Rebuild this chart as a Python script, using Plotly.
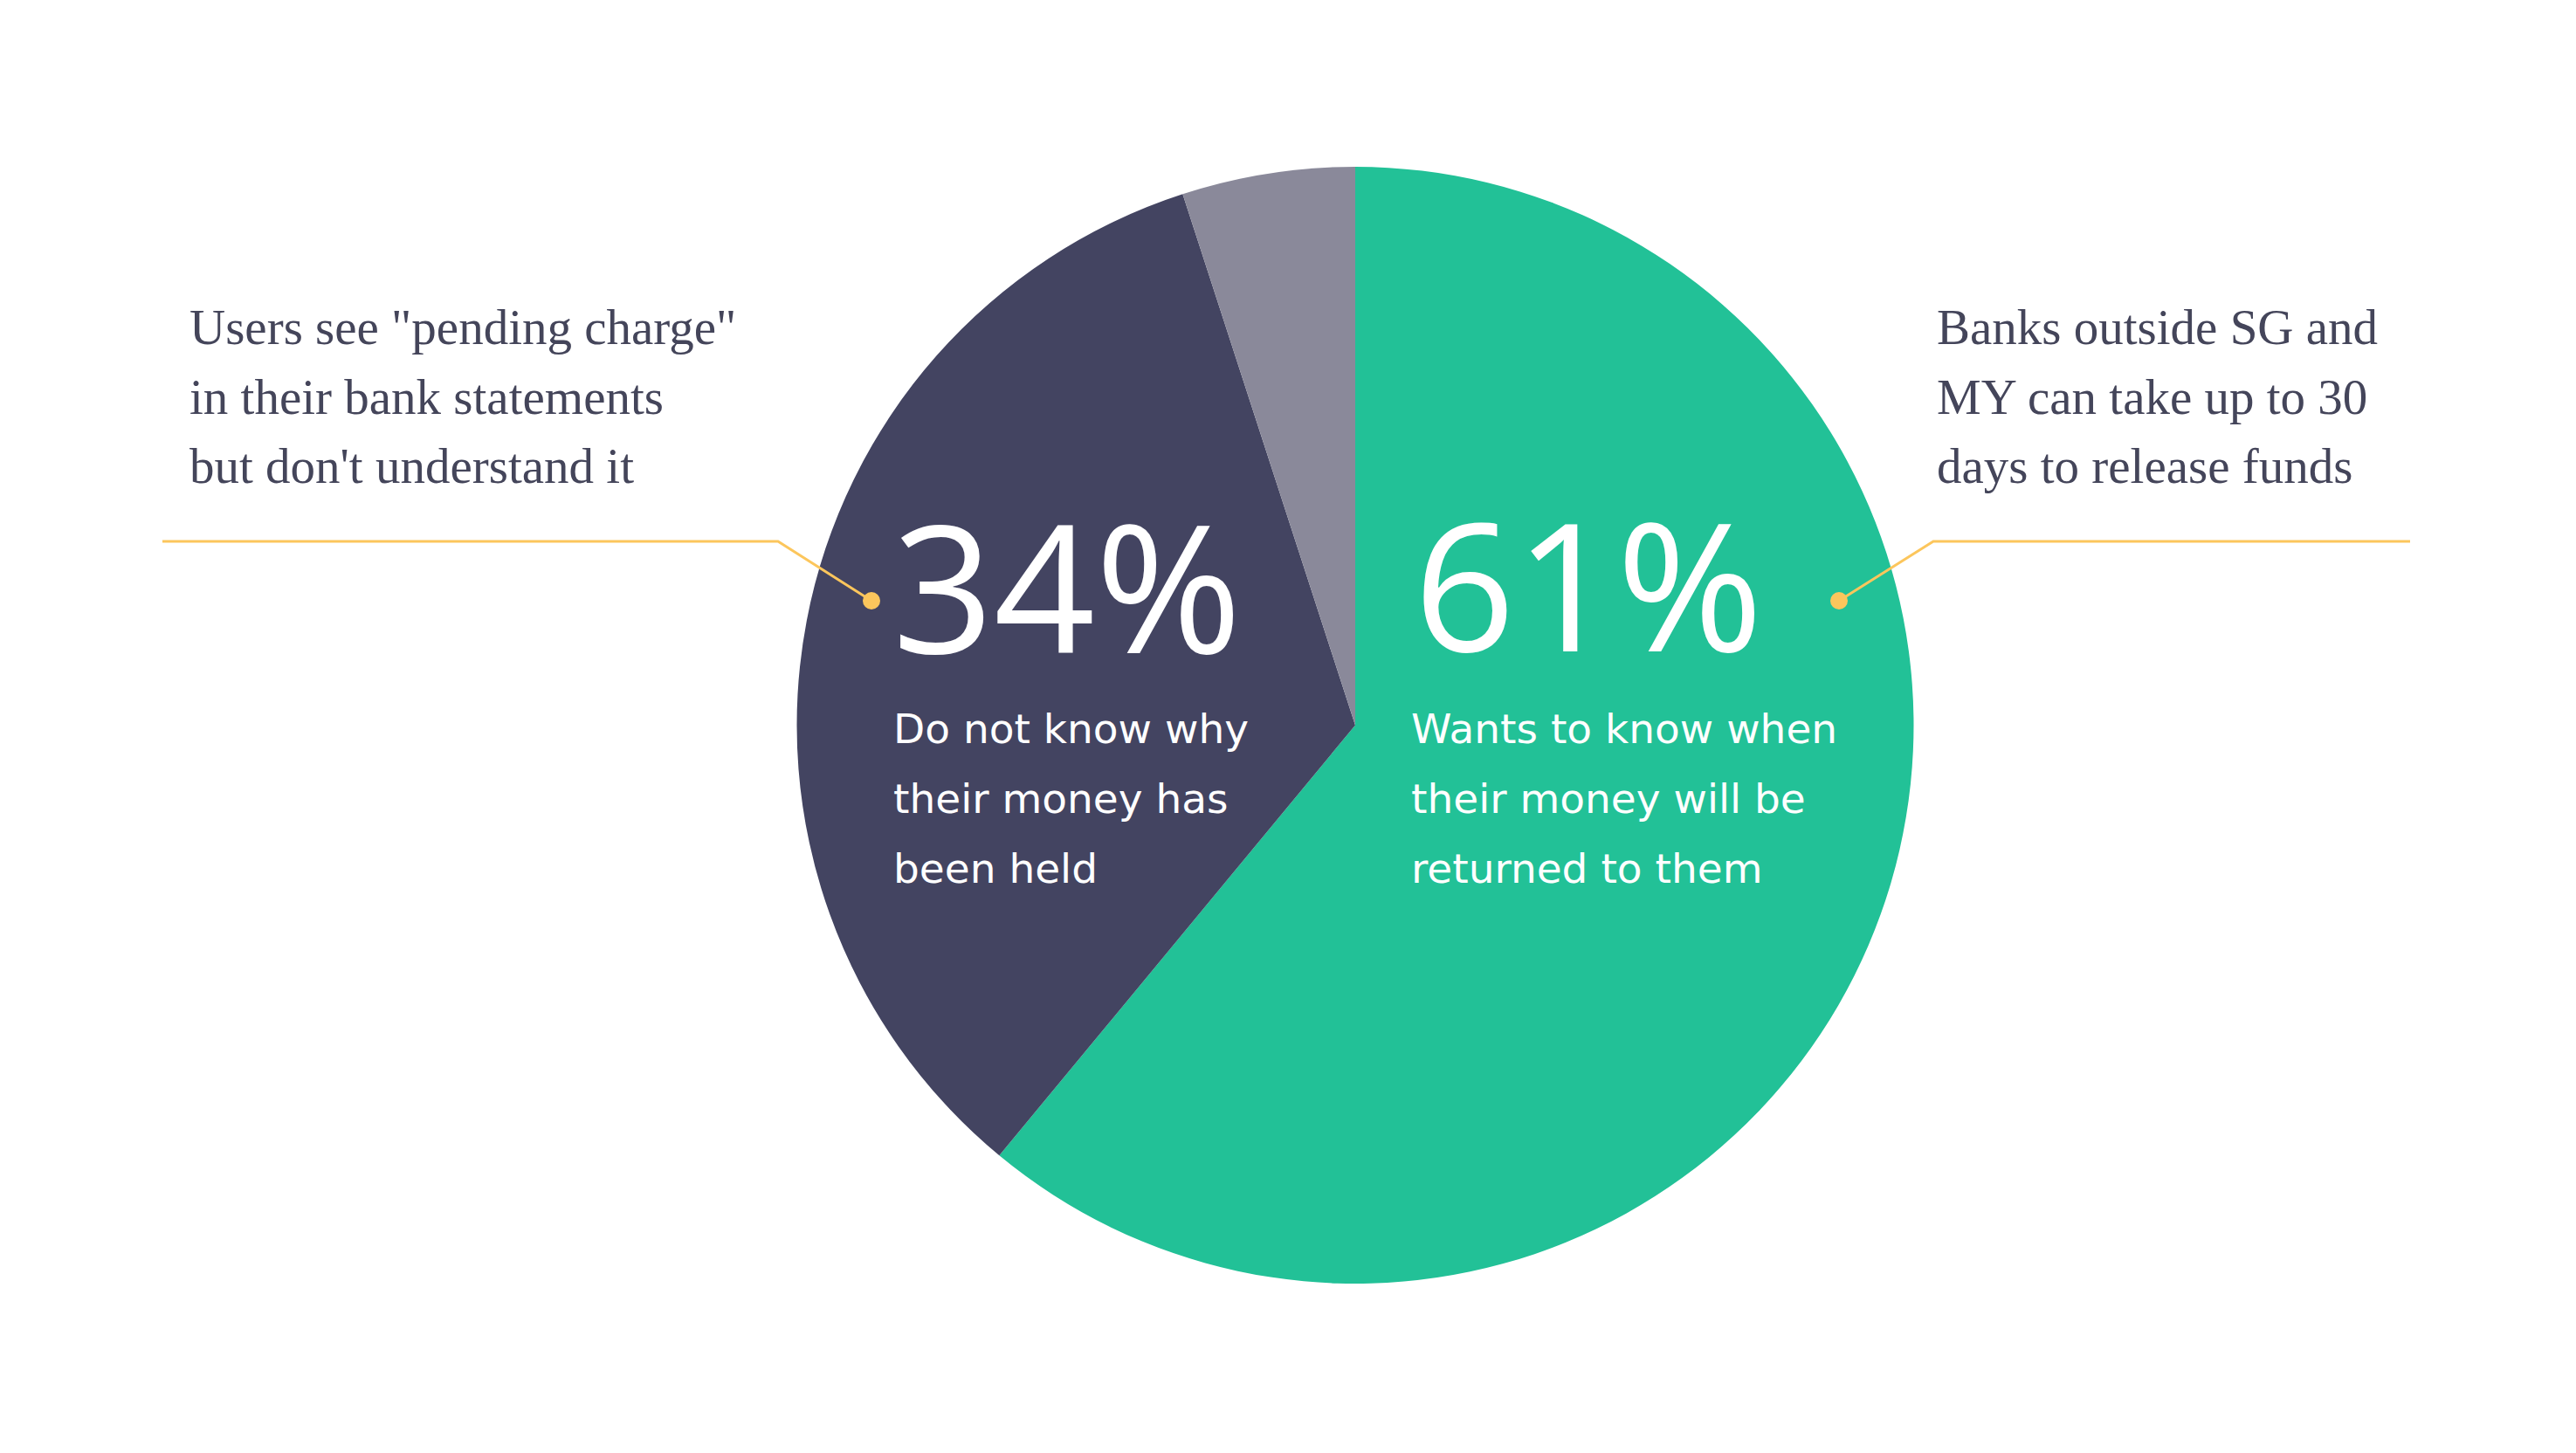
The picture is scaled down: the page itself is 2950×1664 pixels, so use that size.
import plotly.graph_objects as go

W, H = 2950, 1664

# ---- data ----
labels = ["Wants to know when their money will be returned to them",
          "Do not know why their money has been held",
          "Other"]
values = [61, 34, 5]
big_labels = ["61%", "34%"]
sub_lines_green = ["Wants to know when", "their money will be", "returned to them"]
sub_lines_dark = ["Do not know why", "their money has", "been held"]
note_left = ['Users see "pending charge"', "in their bank statements", "but don't understand it"]
note_right = ["Banks outside SG and", "MY can take up to 30", "days to release funds"]

# ---- style / layout constants ----
colors = ["#22C197", "#434461", "#8A899A"]
YELLOW = "#FCC65C"
TEXT_DARK = "#44455A"
SANS = "Open Sans"
SUB = "DejaVu Sans"
SERIF = "Liberation Serif"

CX, CY, R = 1552, 830.5, 639.5


def px(x):
    return x / W


def py(y):
    return 1 - y / H


fig = go.Figure()
fig.add_trace(go.Pie(
    labels=labels, values=values, sort=False, direction="clockwise", rotation=0,
    marker=dict(colors=colors, line=dict(width=0)),
    textinfo="none", hoverinfo="label+percent", showlegend=False,
    domain=dict(x=[px(CX - R), px(CX + R)], y=[py(CY + R), py(CY - R)]),
))

ann = []


def add_text(text, x, baseline, size, color, family, ratio):
    ann.append(dict(text=text, x=px(x), y=py(baseline - ratio * size),
                    xref="paper", yref="paper", xanchor="left", yanchor="middle",
                    showarrow=False, font=dict(size=size, color=color, family=family)))


# big numbers
add_text(big_labels[1], 1020, 748, 203, "white", SANS, 0.388)
add_text(big_labels[0], 1617, 746, 203, "white", SANS, 0.388)

# subtitles
for i, t in enumerate(sub_lines_dark):
    add_text(t, 1021, 852 + 80 * i, 47, "white", SUB, 0.38)
for i, t in enumerate(sub_lines_green):
    add_text(t, 1614, 852 + 80 * i, 47, "white", SUB, 0.38)

# side notes
for i, t in enumerate(note_left):
    add_text(t, 215, 394 + 79.5 * i, 57, TEXT_DARK, SERIF, 0.3375)
for i, t in enumerate(note_right):
    add_text(t, 2216, 394 + 79.5 * i, 57, TEXT_DARK, SERIF, 0.3375)

shapes = []
# leader lines
left_path = f"M {px(186)},{py(620)} L {px(891)},{py(620)} L {px(998)},{py(688)}"
right_path = f"M {px(2760)},{py(620)} L {px(2214)},{py(620)} L {px(2106)},{py(688)}"
for p in (left_path, right_path):
    shapes.append(dict(type="path", path=p, xref="paper", yref="paper",
                       line=dict(color=YELLOW, width=3)))
for dx in (998, 2106):
    r = 10
    shapes.append(dict(type="circle", xref="paper", yref="paper",
                       x0=px(dx - r), x1=px(dx + r), y0=py(688 + r), y1=py(688 - r),
                       fillcolor=YELLOW, line=dict(width=0)))

fig.update_layout(
    width=W, height=H, margin=dict(l=0, r=0, t=0, b=0),
    paper_bgcolor="white", plot_bgcolor="white",
    annotations=ann, shapes=shapes,
)
fig.write_html("out.html", config={"displayModeBar": False},
               post_script="document.body.style.margin='0';")
